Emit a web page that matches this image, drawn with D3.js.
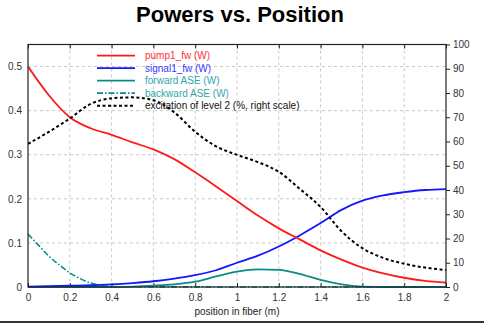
<!DOCTYPE html>
<html><head><meta charset="utf-8">
<script src="https://cdn.jsdelivr.net/npm/d3@7/dist/d3.min.js"></script>
<style>body{margin:0;background:#fff;}svg{display:block;font-family:"Liberation Sans",Arial,sans-serif;}</style>
</head><body><svg id="c" width="484" height="323"></svg>
<script>
const positions = [0,0.1,0.2,0.3,0.4,0.5,0.6,0.7,0.8,0.9,1.0,1.1,1.2,1.3,1.4,1.5,1.6,1.7,1.8,1.9,2.0];
const pump1_fw = [0.500,0.435,0.385,0.360,0.345,0.328,0.312,0.290,0.260,0.228,0.195,0.162,0.133,0.108,0.083,0.062,0.044,0.031,0.021,0.014,0.010];
const signal1_fw = [0.001,0.002,0.003,0.004,0.006,0.009,0.013,0.019,0.027,0.038,0.055,0.071,0.092,0.117,0.145,0.175,0.196,0.208,0.215,0.220,0.222];
const forwardASE = [0,0,0,0,0,0.001,0.003,0.006,0.012,0.024,0.035,0.040,0.039,0.030,0.016,0.006,0.001,0,0,0,0];
const backwardPos = [0,0.05,0.1,0.15,0.2,0.25,0.3,0.35,0.4,0.5,0.6,0.8,1.0,1.5,2.0];
const backwardASE = [0.120,0.095,0.070,0.050,0.032,0.019,0.009,0.004,0.001,0.0005,0.0003,0.0002,0.0001,0,0];
const excitation = [59,64,69.5,75.5,77.8,78.2,77,72,64,58,54.5,51.5,47.5,40.5,33,23,16,12,9.6,8,7];
const xTicks = [0,0.2,0.4,0.6,0.8,1,1.2,1.4,1.6,1.8,2];
const yTicks = [0,0.1,0.2,0.3,0.4,0.5];
const y2Ticks = [0,10,20,30,40,50,60,70,80,90,100];
const legendLabels = ["pump1_fw (W)","signal1_fw (W)","forward ASE (W)","backward ASE (W)","excitation of level 2 (%, right scale)"];

const svg = d3.select("#c");
const L=28,R=446,T=44.5,B=287;
const x = d3.scaleLinear().domain([0,2]).range([L,R]);
const y = d3.scaleLinear().domain([0,0.55]).range([B,T]);
const y2 = d3.scaleLinear().domain([0,100]).range([B,T]);

svg.append("text").attr("x",240).attr("y",22).attr("text-anchor","middle")
  .attr("font-size",22).attr("font-weight","bold").attr("fill","#000").text("Powers vs. Position");

// grid
const g = svg.append("g");
g.selectAll(".vg").data(xTicks.slice(1,-1)).enter().append("line")
  .attr("x1",d=>x(d)).attr("x2",d=>x(d)).attr("y1",T).attr("y2",B)
  .attr("stroke","#c8c8c8").attr("stroke-dasharray","3,3");
g.selectAll(".hg").data(yTicks.slice(1)).enter().append("line")
  .attr("x1",L).attr("x2",R).attr("y1",d=>y(d)).attr("y2",d=>y(d))
  .attr("stroke","#c8c8c8").attr("stroke-dasharray","3,3");

// axes
const fs=10, tc="#333";
const xa = svg.append("g").attr("transform",`translate(0,${B})`)
  .call(d3.axisBottom(x).tickValues(xTicks).tickSizeInner(-4).tickSizeOuter(0).tickPadding(7).tickFormat(d3.format("~g")));
const xt = svg.append("g").attr("transform",`translate(0,${T})`)
  .call(d3.axisTop(x).tickValues(xTicks).tickSizeInner(-4).tickSizeOuter(0).tickFormat(""));
const ya = svg.append("g").attr("transform",`translate(${L},0)`)
  .call(d3.axisLeft(y).tickValues(yTicks).tickSize(0).tickPadding(6).tickFormat(d3.format("~g")));
const y2a = svg.append("g").attr("transform",`translate(${R},0)`)
  .call(d3.axisRight(y2).tickValues(y2Ticks).tickSize(4).tickSizeOuter(0).tickPadding(3));
[xa,xt,ya,y2a].forEach(a=>{a.select(".domain").remove();
  a.selectAll("text").attr("font-size",fs).attr("fill",tc).attr("font-family","Liberation Sans, Arial, sans-serif");
  a.selectAll("line").attr("stroke","#222");});

svg.append("text").attr("x",237).attr("y",315).attr("text-anchor","middle")
  .attr("font-size",10).attr("fill","#222").text("position in fiber (m)");

const line = (xs,ys,sc)=>d3.line().x((d,i)=>x(xs[i])).y(d=>sc(d)).curve(d3.curveMonotoneX)(ys);
const clip = svg.append("clipPath").attr("id","cp").append("rect").attr("x",L).attr("y",T).attr("width",R-L).attr("height",B-T+1);
const pg = svg.append("g").attr("clip-path","url(#cp)");
const series = [
 {xs:positions, ys:forwardASE, sc:y, c:"#0a8a88", w:1.8, dash:null},
 {xs:backwardPos, ys:backwardASE, sc:y, c:"#0a8a88", w:1.6, dash:"6,2,1.5,2"},
 {xs:positions, ys:signal1_fw, sc:y, c:"#1515ff", w:1.8, dash:null},
 {xs:positions, ys:pump1_fw, sc:y, c:"#ff1a1a", w:1.8, dash:null},
 {xs:positions, ys:excitation, sc:y2, c:"#000", w:2, dash:"3,2.5"}
];
series.forEach(s=>pg.append("path").attr("d",line(s.xs,s.ys,s.sc)).attr("fill","none")
  .attr("stroke",s.c).attr("stroke-width",s.w).attr("stroke-dasharray",s.dash));

// frame
svg.append("rect").attr("x",L).attr("y",T).attr("width",R-L).attr("height",B-T)
  .attr("fill","none").attr("stroke","#222").attr("stroke-width",1.2);

// legend
const lc = ["#ff1a1a","#1515ff","#0a8a88","#0a8a88","#000"];
const tcol = ["#ff3030","#3a3aff","#30a8a8","#30a8a8","#111"];
const ld = [null,null,null,"6,2,1.5,2","3,2.5"];
const lg = svg.append("g");
legendLabels.forEach((t,i)=>{
  const yy = 55.7 + i*12.5;
  lg.append("line").attr("x1",97).attr("x2",135).attr("y1",yy).attr("y2",yy)
    .attr("stroke",lc[i]).attr("stroke-width",i==4?2:1.8).attr("stroke-dasharray",ld[i]);
  lg.append("text").attr("x",145).attr("y",yy+3.5).attr("font-size",10).attr("fill",tcol[i]).text(t);
});

svg.append("rect").attr("x",0).attr("y",321).attr("width",484).attr("height",2).attr("fill","#333");
</script></body></html>
